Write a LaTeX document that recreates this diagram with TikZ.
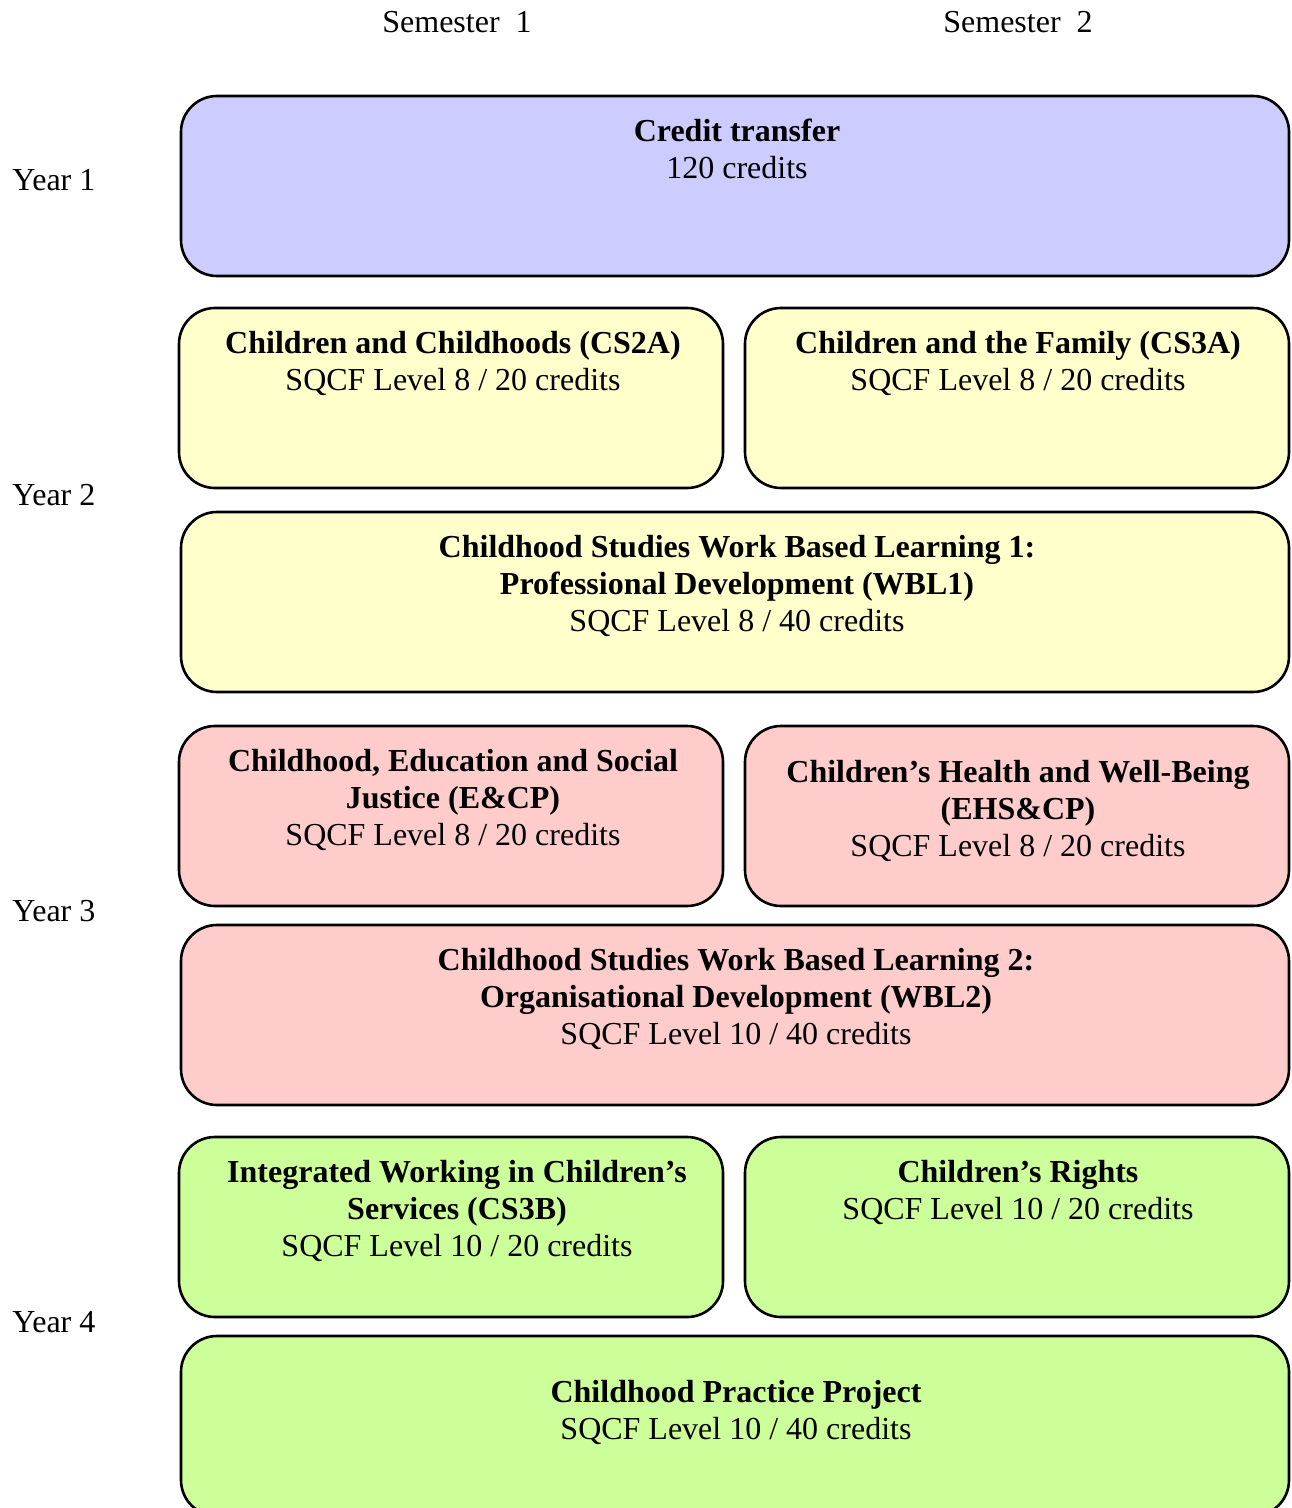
\documentclass[tikz,border=0pt]{standalone}
\usepackage{fontspec}
\setmainfont{Liberation Serif}
\definecolor{cblue}{HTML}{CCCCFF}
\definecolor{cyellow}{HTML}{FFFFCC}
\definecolor{cpink}{HTML}{FFCCCC}
\definecolor{cgreen}{HTML}{CCFF99}
\tikzset{
  modbox/.style={draw=black, line width=1.3pt, rounded corners=18pt, inner sep=0pt},
  modtext/.style={anchor=north, align=center, inner sep=0pt, font=\fontsize{16}{18.5}\selectfont},
  lbl/.style={anchor=base west, inner sep=0pt, font=\fontsize{16}{18.5}\selectfont},
  semlbl/.style={anchor=base, inner sep=0pt, font=\fontsize{16}{18.5}\selectfont}
}
\begin{document}
\begin{tikzpicture}[x=0.5pt,y=-0.5pt]
\useasboundingbox (0,0) rectangle (1291,1508);
\begin{scope}
\clip (0,0) rectangle (1291,1508);
% boxes
\path[modbox, fill=cblue]   (181,96)   rectangle (1289,276) node[midway] (b1) {};
\path[modbox, fill=cyellow] (179,308)  rectangle (723,488)  node[midway] (b2) {};
\path[modbox, fill=cyellow] (745,308)  rectangle (1289,488) node[midway] (b3) {};
\path[modbox, fill=cyellow] (181,512)  rectangle (1289,692) node[midway] (b4) {};
\path[modbox, fill=cpink]   (179,726)  rectangle (723,906)  node[midway] (b5) {};
\path[modbox, fill=cpink]   (745,726)  rectangle (1289,906) node[midway] (b6) {};
\path[modbox, fill=cpink]   (181,925)  rectangle (1289,1105) node[midway] (b7) {};
\path[modbox, fill=cgreen]  (179,1137) rectangle (723,1317) node[midway] (b8) {};
\path[modbox, fill=cgreen]  (745,1137) rectangle (1289,1317) node[midway] (b9) {};
\path[modbox, fill=cgreen]  (181,1336) rectangle (1289,1516) node[midway] (b10) {};
\end{scope}
% texts
\node[modtext] (t1) at (737,119) {\textbf{Credit transfer}\\120 credits};
\node[modtext] (t2) at (453,331) {\textbf{Children and Childhoods (CS2A)}\\SQCF Level 8 / 20 credits};
\node[modtext] (t3) at (1018,331) {\textbf{Children and the Family (CS3A)}\\SQCF Level 8 / 20 credits};
\node[modtext] (t4) at (737,535) {\textbf{Childhood Studies Work Based Learning 1:}\\\textbf{Professional Development (WBL1)}\\SQCF Level 8 / 40 credits};
\node[modtext] (t5) at (453,749) {\textbf{Childhood, Education and Social}\\\textbf{Justice (E\&CP)}\\SQCF Level 8 / 20 credits};
\node[modtext] (t6) at (1018,760) {\textbf{Children’s Health and Well-Being}\\\textbf{(EHS\&CP)}\\SQCF Level 8 / 20 credits};
\node[modtext] (t7) at (736,948) {\textbf{Childhood Studies Work Based Learning 2:}\\\textbf{Organisational Development (WBL2)}\\SQCF Level 10 / 40 credits};
\node[modtext] (t8) at (457,1160) {\textbf{Integrated Working in Children’s}\\\textbf{Services (CS3B)}\\SQCF Level 10 / 20 credits};
\node[modtext] (t9) at (1018,1160) {\textbf{Children’s Rights}\\SQCF Level 10 / 20 credits};
\node[modtext] (t10) at (736,1380) {\textbf{Childhood Practice Project}\\SQCF Level 10 / 40 credits};
% labels
\node[semlbl] (s1) at (457,33) {Semester\ \ 1};
\node[semlbl] (s2) at (1018,33) {Semester\ \ 2};
\node[lbl] (y1) at (12,191) {Year 1};
\node[lbl] (y2) at (12,505) {Year 2};
\node[lbl] (y3) at (12,921) {Year 3};
\node[lbl] (y4) at (12,1332) {Year 4};
\end{tikzpicture}
\end{document}
